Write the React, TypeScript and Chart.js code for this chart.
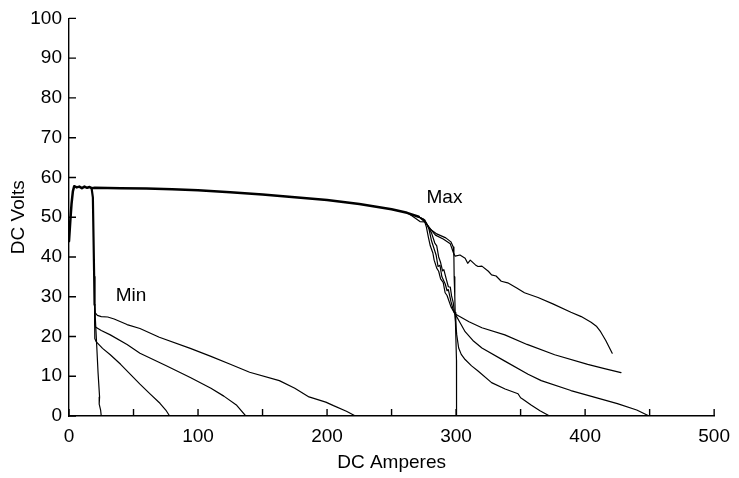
import React, { useEffect, useRef } from "react";
import { Chart, registerables } from "chart.js";

Chart.register(...registerables);

// ---- Data (DC Amperes, DC Volts) ----
// Common start shared by every trace
const RISE: [number, number][] = [
  [0, 44], [1, 49], [2, 53.5], [3, 56.5], [4, 57.8], [6, 57.5], [8, 57.7], [10, 57.3], [12, 57.7], [14, 57.4], [16, 57.6], [17.5, 57.3],
];
// Shared plateau of the "Max" traces
const MAX_TOP: [number, number][] = [
  [20, 57.4], [40, 57.3], [60, 57.2], [80, 57.0], [100, 56.8], [125, 56.3], [150, 55.7], [175, 55.0], [200, 54.3],
  [225, 53.3], [250, 52.0], [262, 51.1], [271, 50.1],
];
// Shared drop of the "Min" traces
const MIN_DROP: [number, number][] = [[17.5, 57.3], [18.5, 55], [19, 45], [19.5, 35], [19.8, 28]];

const MIN_A: [number, number][] = [
  [20.2, 26], [22, 25.3], [25, 25], [30, 24.9], [35, 24.4], [45, 23], [55, 22], [70, 19.8], [94, 17], [110, 15], [125, 13],
  [140, 11], [163, 8.9], [175, 7], [186, 4.8], [199, 3.5], [205, 2.6], [215, 1.2], [222, 0],
];
const MIN_B: [number, number][] = [
  [20, 23], [20.5, 22.4], [25, 21.5], [32, 20.4], [45, 18], [55, 15.8], [75, 12.7], [94, 9.7], [110, 7], [120, 5], [130, 2.7], [137, 0],
];
const MIN_C: [number, number][] = [
  [20, 19.5], [21, 18.7], [26, 17], [32, 15.4], [40, 13], [55, 8], [63, 5.5], [70.5, 3.2], [75, 1.5], [78, 0],
];
const MIN_D: [number, number][] = [
  [20.5, 24], [21.7, 16.3], [22.5, 11], [23.7, 4.75], [23.4, 3], [24.5, 1.5], [25, 0],
];

const MAX_A: [number, number][] = [
  [266, 50.3], [272, 48.9], [276, 48.8], [279, 47.5], [284, 45.5], [290, 44.5], [295.5, 43.3], [298, 41], [299.3, 40.2],
  [303, 40.5], [307, 39.7], [309, 38.4], [311, 39.2], [315, 38], [317, 37.6], [320, 37.7], [325, 36.4], [327.5, 35.5],
  [331, 35.2], [335, 33.9], [340, 33.5], [347, 32.2], [353, 31], [363.5, 29.8], [375, 28.2], [389, 26.1], [397, 25],
  [404.6, 23.6], [409, 22.5], [412, 21.2], [416, 19], [421, 15.8],
];
const MAX_E: [number, number][] = [
  [275, 49.3], [280, 47], [285, 45.8], [292, 44.8], [296, 43.8], [297.8, 42.5], [298.3, 40], [298.5, 35], [299, 30],
  [299.3, 26], [299.8, 20], [300.3, 14], [300.2, 8], [300.5, 0],
];
const MAX_F: [number, number][] = [
  [277, 48.5], [281, 46], [283.5, 43.5], [285, 42.8], [286.5, 40], [288, 38.6], [289.5, 36.5], [290.5, 36.8],
  [292.5, 34.3], [294, 32.5], [295.5, 32.4], [296.5, 30.2], [297.8, 28.5], [298.7, 26.2], [299, 25.7], [310, 23.7],
  [320, 22.2], [337.8, 20.4], [355, 18], [376.4, 15.4], [402, 13], [415, 11.9], [427.8, 10.9],
];
const MAX_G: [number, number][] = [
  [276, 49.2], [279, 47], [281, 44], [283, 42], [284.5, 40.5], [286, 37.6], [287.5, 37.9], [289, 35], [291.6, 33.2],
  [293, 31.5], [294, 31.8], [296, 28.8], [298, 26.5], [299, 25.8], [303, 23.5], [307, 21.2], [313, 19], [320, 17.1],
  [337.8, 13.8], [355.8, 10.5], [366, 8.9], [389, 6.4], [407, 4.75], [425, 3.1], [440, 1.5], [449.6, 0],
];
const MAX_H: [number, number][] = [
  [275, 49.5], [277, 47.5], [278.5, 45], [280, 42.8], [282, 41], [283, 39.2], [285, 37.2], [286.5, 36.4], [288, 34.5],
  [290, 33.6], [291.5, 31], [293, 30.3], [296, 27.5], [299, 25.7], [299.8, 23], [300.5, 20.4], [302, 17.1], [304, 15.5],
  [307, 14.2], [312, 12.6], [317, 11.3], [327.5, 8.4], [338, 6.8], [348, 5.6], [350, 4.6], [351.5, 4.3], [358.4, 2.7],
  [365, 1.3], [372.5, 0],
];

const X_TICK_MARKS = [0, 50, 100, 150, 200, 250, 300, 350, 400, 450, 500];
const Y_TICK_MARKS = [0, 10, 20, 30, 40, 50, 60, 70, 80, 90, 100];
const ANNOTATIONS: { text: string; x: number; y: number }[] = [
  { text: "Min", x: 48, y: 30.2 },
  { text: "Max", x: 291, y: 54.8 },
];

const FONT_FAMILY = '"Liberation Sans", Arial, Helvetica, sans-serif';
const FONT_SIZE = 19;

const last = (a: [number, number][]) => a[a.length - 1];

type Trace = { pts: [number, number][]; width: number };
const traces: Trace[] = [
  { pts: [...RISE, ...MAX_TOP], width: 2.5 },
  { pts: MIN_DROP, width: 2.2 },
  ...[MIN_A, MIN_B, MIN_C, MIN_D].map((tail) => ({ pts: [last(MIN_DROP), ...tail], width: 1.2 })),
  ...[MAX_A, MAX_E, MAX_F, MAX_G, MAX_H].map((tail) => {
    const start = MAX_TOP.filter((p) => p[0] < tail[0][0]);
    return { pts: [last(start), ...tail], width: 1.2 };
  }),
];

const decorPlugin = {
  id: "decor",
  afterDraw(chart: any) {
    const { ctx, chartArea, scales } = chart;
    const xs = scales.x;
    const ys = scales.y;
    ctx.save();
    ctx.strokeStyle = "#000";
    ctx.lineWidth = 1.4;
    ctx.beginPath();
    for (const v of X_TICK_MARKS) {
      const px = xs.getPixelForValue(v);
      ctx.moveTo(px, chartArea.bottom);
      ctx.lineTo(px, chartArea.bottom - 7);
    }
    for (const v of Y_TICK_MARKS) {
      const py = ys.getPixelForValue(v);
      ctx.moveTo(chartArea.left, py);
      ctx.lineTo(chartArea.left + 7, py);
    }
    ctx.stroke();
    ctx.fillStyle = "#000";
    ctx.font = `${FONT_SIZE}px ${FONT_FAMILY}`;
    ctx.textAlign = "center";
    ctx.textBaseline = "middle";
    for (const a of ANNOTATIONS) {
      ctx.fillText(a.text, xs.getPixelForValue(a.x), ys.getPixelForValue(a.y));
    }
    ctx.restore();
  },
};

export default function App() {
  const canvasRef = useRef<HTMLCanvasElement | null>(null);

  useEffect(() => {
    if (!canvasRef.current) return;
    const datasets = traces.map((t, i) => ({
      label: `trace ${i + 1}`,
      data: t.pts.map(([x, y]) => ({ x, y })),
      showLine: true,
      borderColor: "#000",
      backgroundColor: "#000",
      borderWidth: t.width,
      borderJoinStyle: "round" as const,
      borderCapStyle: "round" as const,
      pointRadius: 0,
      tension: 0,
      fill: false,
    }));
    const font = { family: FONT_FAMILY, size: FONT_SIZE };
    const chart = new Chart(canvasRef.current, {
      type: "scatter",
      data: { datasets },
      options: {
        animation: false,
        responsive: true,
        maintainAspectRatio: false,
        layout: { padding: { left: 0, right: 22, top: 10, bottom: 0 } },
        plugins: { legend: { display: false }, tooltip: { enabled: false } },
        scales: {
          x: {
            type: "linear",
            min: 0,
            max: 500,
            ticks: { stepSize: 100, color: "#000", font, padding: 9, maxRotation: 0 },
            grid: { display: false, drawTicks: false },
            border: { display: true, color: "#000", width: 1.4 },
            title: { display: true, text: "DC Amperes", color: "#000", font, padding: { top: 0, bottom: 4 } },
            afterFit: (s: any) => { s.height = 62; },
          },
          y: {
            type: "linear",
            min: 0,
            max: 100,
            ticks: { stepSize: 10, color: "#000", font, padding: 7 },
            grid: { display: false, drawTicks: false },
            border: { display: true, color: "#000", width: 1.4 },
            title: { display: true, text: "DC Volts", color: "#000", font, padding: { top: 7, bottom: 0 } },
            afterFit: (s: any) => { s.width = 69; },
          },
        },
      },
      plugins: [decorPlugin],
    });
    return () => chart.destroy();
  }, []);

  return (
    <div style={{ position: "absolute", left: 0, top: 0, width: 739, height: 478, background: "#fff" }}>
      <canvas ref={canvasRef} />
    </div>
  );
}
